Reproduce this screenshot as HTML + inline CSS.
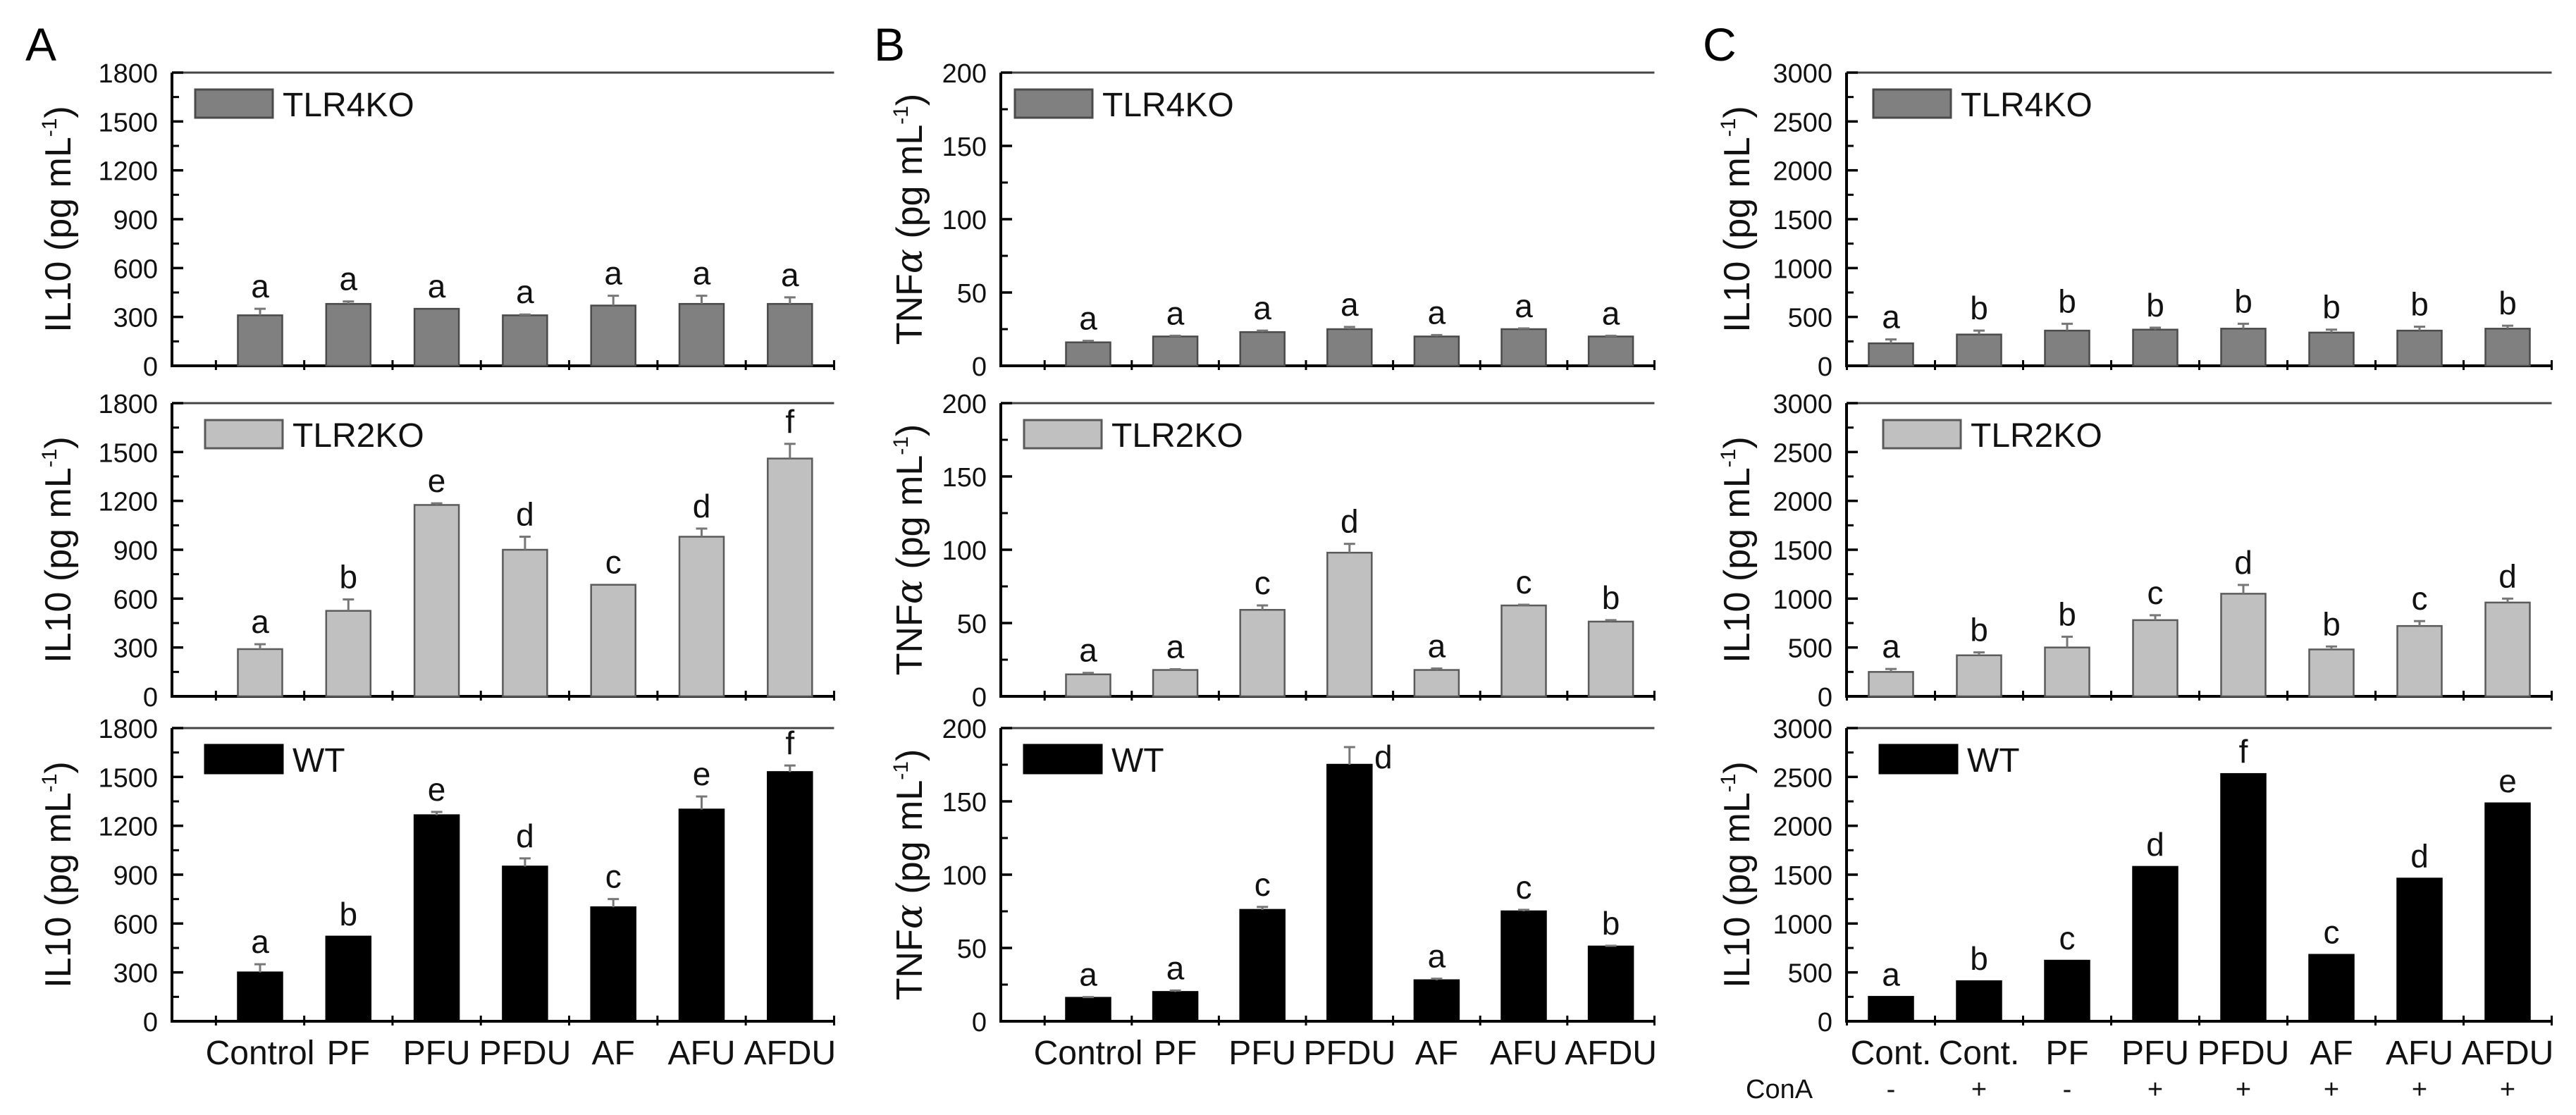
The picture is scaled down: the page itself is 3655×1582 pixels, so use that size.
<!DOCTYPE html>
<html><head><meta charset="utf-8"><style>
html,body{margin:0;padding:0;background:#fff;}
svg{display:block;font-family:"Liberation Sans",Arial,sans-serif;}
</style></head><body>
<svg id="fig" width="3655" height="1582" viewBox="0 0 3655 1582" xmlns="http://www.w3.org/2000/svg">
<text x="36" y="86" font-size="66">A</text>
<text x="1240" y="86" font-size="66">B</text>
<text x="2416" y="86" font-size="66">C</text>
</svg>
<script>
// ---- data ----
const catsAB = ["Control","PF","PFU","PFDU","AF","AFU","AFDU"];
const catsC = ["Cont.","Cont.","PF","PFU","PFDU","AF","AFU","AFDU"];
const conA = ["-","+","-","+","+","+","+","+"];
const groups = ["TLR4KO","TLR2KO","WT"];

const A_tlr4 = [310,380,350,310,370,380,380];
const A_tlr4_err = [40,15,0,5,60,50,40];
const A_tlr4_let = ["a","a","a","a","a","a","a"];
const A_tlr2 = [290,525,1175,900,685,980,1460];
const A_tlr2_err = [30,70,10,80,0,50,90];
const A_tlr2_let = ["a","b","e","d","c","d","f"];
const A_wt = [300,520,1265,950,700,1300,1530];
const A_wt_err = [50,0,20,50,50,80,40];
const A_wt_let = ["a","b","e","d","c","e","f"];
const A_ticks = [0,300,600,900,1200,1500,1800];

const B_tlr4 = [16,20,23,25,20,25,20];
const B_tlr4_err = [1,0.5,1,1.5,1,0.5,0.5];
const B_tlr4_let = ["a","a","a","a","a","a","a"];
const B_tlr2 = [15,18,59,98,18,62,51];
const B_tlr2_err = [1,0.5,3,6,1,0.5,1];
const B_tlr2_let = ["a","a","c","d","a","c","b"];
const B_wt = [16,20,76,175,28,75,51];
const B_wt_err = [0.5,1,2,12,1,1,0.5];
const B_wt_let = ["a","a","c","d","a","c","b"];
const B_ticks = [0,50,100,150,200];

const C_tlr4 = [230,320,360,370,380,340,360,380];
const C_tlr4_err = [40,40,70,20,50,30,40,30];
const C_tlr4_let = ["a","b","b","b","b","b","b","b"];
const C_tlr2 = [250,420,500,780,1050,480,720,960];
const C_tlr2_err = [30,30,110,50,90,30,50,40];
const C_tlr2_let = ["a","b","b","c","d","b","c","d"];
const C_wt = [250,410,620,1580,2530,680,1460,2230];
const C_wt_err = [0,0,0,0,0,0,0,0];
const C_wt_let = ["a","b","c","d","f","c","d","e"];
const C_ticks = [0,500,1000,1500,2000,2500,3000];

// ---- drawing ----
const NS = "http://www.w3.org/2000/svg";
const svg = document.getElementById("fig");
function mk(tag, attrs, parent){
  const e = document.createElementNS(NS, tag);
  for (const k in attrs) e.setAttribute(k, attrs[k]);
  (parent||svg).appendChild(e);
  return e;
}
const tops = [103, 572, 1033];
const H = 416;
const fills = ["#808080","#c0c0c0","#000000"];
const strokes = ["#4a4a4a","#5a5a5a","#000000"];

function panel(cfg){
  const g = mk("g", {});
  
  
  const n = cfg.cats.length;
  const xEnd = cfg.x0 + cfg.pad + (n - 1 + 0.5) * cfg.u;
  const xc = i => cfg.x0 + cfg.pad + i * cfg.u;
  const ymax = cfg.ticks[cfg.ticks.length - 1];
  cfg.series.forEach((s, si) => {
    const top = tops[si], bot = top + H;
    const y = v => bot - v / ymax * H;
    const topLine = mk("line", {x1: cfg.x0, y1: top, x2: xEnd, y2: top, stroke: "#444", "stroke-width": 3}, g);
    
    
    const yAx = mk("line", {x1: cfg.x0, y1: top, x2: cfg.x0, y2: bot + 2, stroke: "#000", "stroke-width": 4}, g);
    
    
    const xAx = mk("line", {x1: cfg.x0 - 2, y1: bot, x2: xEnd, y2: bot, stroke: "#000", "stroke-width": 4}, g);
    
    
    for (let t = 0; t < cfg.ticks.length; t++) {
      const v = cfg.ticks[t];
      const tl = mk("line", {x1: cfg.x0, y1: y(v), x2: cfg.x0 + 16, y2: y(v), stroke: "#000", "stroke-width": 3.5}, g);
      
      
      const lab = mk("text", {x: cfg.x0 - 20, y: y(v) + 14, "font-size": 38, "text-anchor": "end", fill: "#111"}, g);
      lab.textContent = v;
      
      
      if (t < cfg.ticks.length - 1) {
        const mv = (v + cfg.ticks[t + 1]) / 2;
        const ml = mk("line", {x1: cfg.x0, y1: y(mv), x2: cfg.x0 + 10, y2: y(mv), stroke: "#000", "stroke-width": 3}, g);
        
        
      }
    }
    for (let i = 0; i <= n; i++) {
      const tx = xc(i - 0.5);
      const xt = mk("line", {x1: tx, y1: bot - 8, x2: tx, y2: bot + 6, stroke: "#000", "stroke-width": 3}, g);
      
      
    }
    const cy = top + H / 2;
    const tt = mk("text", {x: cfg.titleX, y: cy, "font-size": 52, "text-anchor": "middle", transform: `rotate(-90 ${cfg.titleX} ${cy})`, fill: "#111"}, g);
    
    
    const t1 = mk("tspan", {}, tt); t1.textContent = cfg.titleMain;
    if (cfg.alpha) { const ta = mk("tspan", {"font-style": "italic", "font-family": "DejaVu Serif, serif"}, tt); ta.textContent = "α"; }
    const t2 = mk("tspan", {}, tt); t2.textContent = " (pg mL";
    const t3 = mk("tspan", {dy: -20, "font-size": 30}, tt); t3.textContent = "-1";
    const t4 = mk("tspan", {dy: 20}, tt); t4.textContent = ")";
    const lx = cfg.x0 + cfg.legDx[si];
    const lr = mk("rect", {x: lx, y: top + 24, width: 110, height: 40, fill: fills[si], stroke: strokes[si], "stroke-width": 3}, g);
    
    
    const lt = mk("text", {x: lx + 124, y: top + 62, "font-size": 48, fill: "#111"}, g);
    lt.textContent = groups[si];
    
    
    for (let i = 0; i < n; i++) {
      const v = s.vals[i], e = s.err[i];
      const bw = 63;
      const r = mk("rect", {x: xc(i) - bw / 2, y: y(v), width: bw, height: bot - y(v), fill: fills[si], stroke: strokes[si], "stroke-width": 2.5}, g);
      
      
      if (e > 0) {
        const el = mk("line", {x1: xc(i), y1: y(v), x2: xc(i), y2: y(v + e), stroke: "#777", "stroke-width": 3}, g);
        
        
        const ec = mk("line", {x1: xc(i) - 8, y1: y(v + e), x2: xc(i) + 8, y2: y(v + e), stroke: "#777", "stroke-width": 3}, g);
        
        
      }
      let ly = y(v + e) - 16, lxp = xc(i);
      if (ly - 34 < top) { ly = y(v + e) + 30; lxp = xc(i) + 48; }
      const lt2 = mk("text", {x: lxp, y: ly, "font-size": 46, "text-anchor": "middle", fill: "#111"}, g);
      lt2.textContent = s.lets[i];
      
      
    }
    if (si === 2) {
      for (let i = 0; i < n; i++) {
        const xl = mk("text", {x: xc(i), y: 1510, "font-size": 48, "text-anchor": "middle", fill: "#111"}, g);
        xl.textContent = cfg.cats[i];
        
        
        if (cfg.conA) {
          const cl = mk("text", {x: xc(i), y: 1558, "font-size": 38, "text-anchor": "middle", fill: "#111"}, g);
          cl.textContent = cfg.conA[i];
          
          
        }
      }
      if (cfg.conA) {
        const cn = mk("text", {x: 2477, y: 1558, "font-size": 38, fill: "#111"}, g);
        cn.textContent = "ConA";
        
        
      }
    }
  });
}

panel({name: "panel-a-il10", x0: 244, u: 125.3, pad: 125, cats: catsAB, ticks: A_ticks, titleX: 100, titleMain: "IL10", legDx: [33, 47, 47],
  series: [{vals: A_tlr4, err: A_tlr4_err, lets: A_tlr4_let}, {vals: A_tlr2, err: A_tlr2_err, lets: A_tlr2_let}, {vals: A_wt, err: A_wt_err, lets: A_wt_let}]});
panel({name: "panel-b-tnfa", x0: 1420, u: 123.6, pad: 124, cats: catsAB, ticks: B_ticks, titleX: 1308, titleMain: "TNF", alpha: true, legDx: [20, 33, 33],
  series: [{vals: B_tlr4, err: B_tlr4_err, lets: B_tlr4_let}, {vals: B_tlr2, err: B_tlr2_err, lets: B_tlr2_let}, {vals: B_wt, err: B_wt_err, lets: B_wt_let}]});
panel({name: "panel-c-il10-cona", x0: 2620, u: 125, pad: 63, cats: catsC, conA: conA, ticks: C_ticks, titleX: 2482, titleMain: "IL10", legDx: [38, 52, 47],
  series: [{vals: C_tlr4, err: C_tlr4_err, lets: C_tlr4_let}, {vals: C_tlr2, err: C_tlr2_err, lets: C_tlr2_let}, {vals: C_wt, err: C_wt_err, lets: C_wt_let}]});
</script>
</body></html>
